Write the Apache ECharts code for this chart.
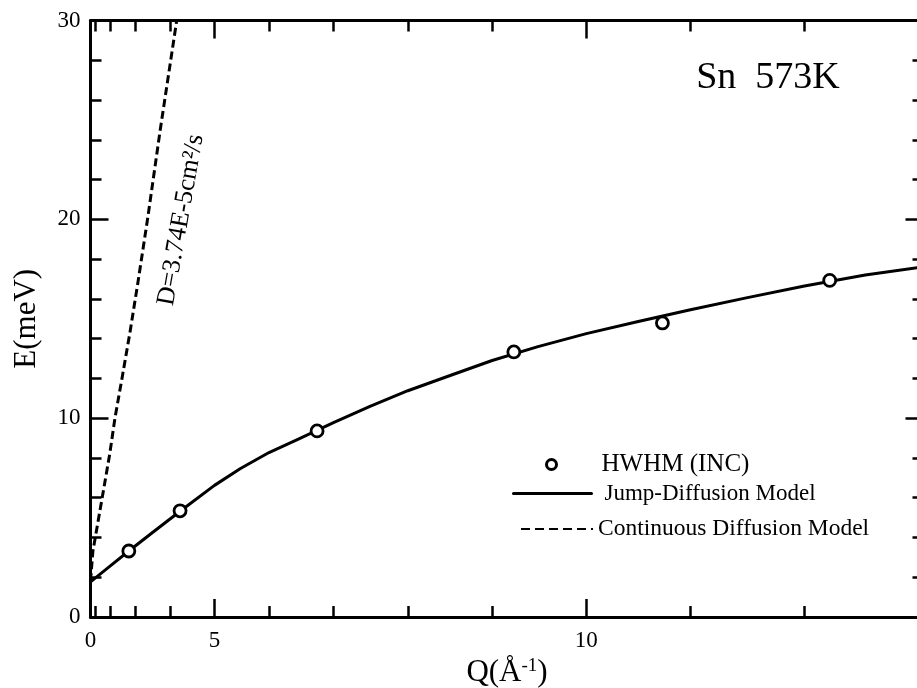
<!DOCTYPE html>
<html><head><meta charset="utf-8">
<script src="https://cdn.jsdelivr.net/npm/echarts@6/dist/echarts.min.js"></script>
<style>html,body{margin:0;padding:0;background:#fff}#c{width:917px;height:688px}</style>
</head><body><div id="c"></div>
<script>
// HWHM (incoherent) data points: Q in 1/Å, E in meV
const hwhmQ = [2.78, 4.25, 6.76, 9.24, 10.74, 12.21];
const hwhmE = [3.32, 5.34, 9.36, 13.33, 14.79, 16.93];
// Jump-diffusion model curve
const jumpQ = [0, 1, 2, 2.78, 3.5, 4.25, 5, 5.5, 6, 6.5, 7, 7.5, 8, 8.5, 9, 9.5, 10, 10.5, 11, 11.5, 12, 12.5, 13];
const jumpE = [1.77, 1.97, 2.57, 3.32, 4.2, 5.32, 6.62, 7.47, 8.27, 8.98, 9.78, 10.58, 11.38, 12.12, 12.9, 13.6, 14.25, 14.85, 15.45, 16.05, 16.65, 17.2, 17.65];
// Continuous diffusion model curve
const contQ = [0, 0.69, 1.58, 1.97, 2.22, 2.52, 2.82, 3.09, 3.40, 3.75, 4.17];
const contE = [1.8, 3.3, 6.2, 8.2, 10.0, 12.0, 14.3, 16.8, 20.1, 24.5, 30.0];
// axis ticks (in Q); the horizontal axis is linear in Q^2
const xLabelQ = [0, 5, 10];
const xMajorTickQ = [5, 10];
const xMinorTickQ = [1, 2, 3, 4, 6, 7, 8, 9, 11, 12, 13];
const xMaxQ2 = 168;
const yMin = 0, yMax = 30, yStep = 10;

const FONT = "'Liberation Serif','Times New Roman',serif";
const sq = q => q * q;
const pairs = (qs, es) => qs.map((q, i) => [sq(q), es[i]]);

const chart = echarts.init(document.getElementById('c'), null, {renderer: 'canvas'});
const gridBox = {left: 90.5, top: 20.5, width: 833, height: 596.5, outerBoundsMode: 'none', containLabel: false};
const lineBlk = {color: '#000', width: 3};
const tickBlk = {color: '#000', width: 2.5};

function xAx(grid, pos, ticks, len, withLine, withLabel) {
  const ax = {
    gridIndex: grid, type: 'value', position: pos, min: 0, max: xMaxQ2,
    axisLine: {show: withLine, onZero: false, lineStyle: lineBlk},
    axisTick: {show: true, inside: true, length: len, lineStyle: tickBlk, customValues: ticks.map(sq)},
    axisLabel: {show: false},
    splitLine: {show: false}
  };
  if (withLabel) {
    ax.axisLabel = {show: true, customValues: xLabelQ.map(sq), margin: 12,
      formatter: v => String(Math.round(Math.sqrt(v))),
      fontFamily: FONT, fontSize: 23, color: '#000'};
    ax.name = 'Q(Å{sup|-1})';
    ax.nameLocation = 'middle';
    ax.nameGap = 32;
    ax.nameTextStyle = {fontFamily: FONT, fontSize: 31, color: '#000',
      rich: {sup: {fontFamily: FONT, fontSize: 19, color: '#000', verticalAlign: 'top', lineHeight: 14}}};
  }
  return ax;
}
function yAx(grid, pos, withLabel) {
  const ax = {
    gridIndex: grid, type: 'value', position: pos, min: yMin, max: yMax, interval: yStep,
    axisLine: {show: true, onZero: false, lineStyle: lineBlk},
    axisTick: {show: true, inside: true, length: 18, lineStyle: tickBlk},
    minorTick: {show: true, splitNumber: 5, length: 11, lineStyle: tickBlk},
    axisLabel: {show: withLabel, margin: 10, fontFamily: FONT, fontSize: 23, color: '#000'},
    splitLine: {show: false}, minorSplitLine: {show: false}
  };
  if (withLabel) {
    ax.name = 'E(meV)';
    ax.nameLocation = 'middle';
    ax.nameGap = 48;
    ax.nameTextStyle = {fontFamily: FONT, fontSize: 31, color: '#000'};
  }
  return ax;
}
const hideSym = {color: 'transparent', borderWidth: 0, opacity: 0};

const option = {
  backgroundColor: '#fff',
  animation: false,
  color: ['#000'],
  grid: [Object.assign({}, gridBox), Object.assign({}, gridBox)],
  xAxis: [
    xAx(0, 'bottom', xMajorTickQ, 18, true, true),
    xAx(0, 'top', xMajorTickQ, 18, true, false),
    xAx(1, 'bottom', xMinorTickQ, 11, false, false),
    xAx(1, 'top', xMinorTickQ, 11, false, false)
  ],
  yAxis: [
    yAx(0, 'left', true),
    yAx(0, 'right', false),
    {gridIndex: 1, type: 'value', min: yMin, max: yMax, show: false}
  ],
  legend: [
    {data: ['HWHM (INC)'], left: 545, top: 452, padding: 0, itemWidth: 90, itemHeight: 10, selectedMode: false,
      itemStyle: {color: '#fff', borderColor: '#000', borderWidth: 3},
      textStyle: {fontFamily: FONT, fontSize: 25, color: '#000'}},
    {data: ['Jump-Diffusion Model'], left: 512, top: 482, padding: 0, itemWidth: 78, itemHeight: 14, selectedMode: false,
      lineStyle: {width: 3, color: '#000'}, itemStyle: hideSym,
      textStyle: {fontFamily: FONT, fontSize: 23, color: '#000', padding: [0, 0, 0, 8]}},
    {data: ['Continuous Diffusion Model'], left: 520, top: 517, padding: 0, itemWidth: 72, itemHeight: 14, selectedMode: false,
      lineStyle: {width: 2, color: '#000', type: [9, 5]}, itemStyle: hideSym,
      textStyle: {fontFamily: FONT, fontSize: 23.5, color: '#000'}}
  ],
  series: [
    {name: 'Jump-Diffusion Model', type: 'line', xAxisIndex: 0, yAxisIndex: 0, color: '#000',
      data: pairs(jumpQ, jumpE), symbol: 'none', smooth: false, lineStyle: Object.assign({join: 'round', cap: 'round'}, lineBlk), z: 2},
    {name: 'Continuous Diffusion Model', type: 'line', xAxisIndex: 0, yAxisIndex: 0, color: '#000',
      data: pairs(contQ, contE), symbol: 'none', lineStyle: {color: '#000', width: 3, type: [8, 4]}, z: 2},
    {name: 'HWHM (INC)', type: 'scatter', xAxisIndex: 0, yAxisIndex: 0,
      data: pairs(hwhmQ, hwhmE), symbol: 'circle', symbolSize: 12,
      itemStyle: {color: '#fff', borderColor: '#000', borderWidth: 2.8, opacity: 1}, z: 5}
  ],
  graphic: [
    {type: 'text', x: 768, y: 78, z: 10,
      style: {text: 'Sn  573K', font: '38px ' + FONT, fill: '#000', align: 'center', verticalAlign: 'middle'}},
    {type: 'text', x: 181, y: 220, rotation: 80 * Math.PI / 180, z: 10,
      style: {text: 'D=3.74E-5cm²/s', font: '26px ' + FONT, fill: '#000', align: 'center', verticalAlign: 'middle'}}
  ]
};
chart.setOption(option);
</script>
</body></html>
